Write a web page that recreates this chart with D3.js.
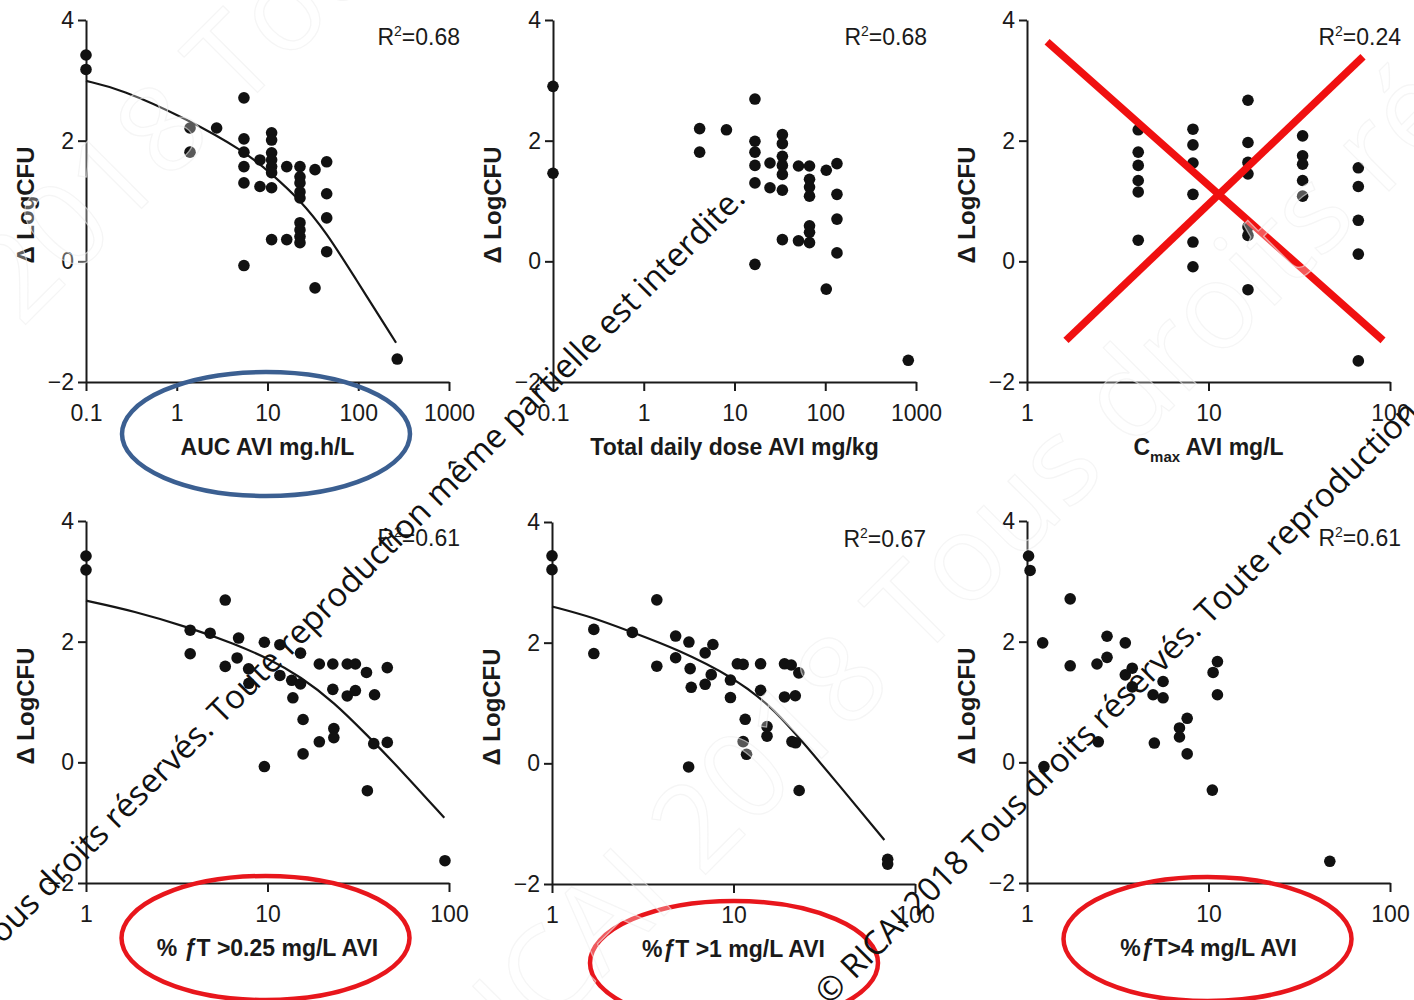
<!DOCTYPE html>
<html>
<head>
<meta charset="utf-8">
<script src="https://cdn.jsdelivr.net/npm/d3@7"></script>
<style>
  html, body { margin: 0; padding: 0; background: #fff; }
  svg { display: block; }
  .axis text { font-family: "Liberation Sans", Arial, sans-serif; font-size: 23px; fill: #1a1a1a; }
  .axis .domain, .axis .tick line { stroke: #1a1a1a; stroke-width: 2; }
  .title { font-family: "Liberation Sans", Arial, sans-serif; font-weight: bold; font-size: 23px; fill: #1a1a1a; }
  .r2 { font-family: "Liberation Sans", Arial, sans-serif; font-size: 23px; fill: #1a1a1a; }
</style>
</head>
<body>
<svg id="chart" width="1414" height="1000"></svg>
<script>
// ---------- values ----------
const yTicks = [-2, 0, 2, 4];
const decadeTicksWide = [0.1, 1, 10, 100, 1000];
const decadeTicksNarrow = [1, 10, 100];
const r2Values = ["0.68", "0.68", "0.24", "0.61", "0.67", "0.61"];

// AUC (mg.h/L) vs change in log CFU
const aucX = [0.1, 0.1, 1.40, 1.40, 2.75, 5.5, 5.5, 5.5, 5.5, 5.5, 5.5, 8.26, 8.26,
  11.1, 11.1, 11.1, 11.1, 11.1, 11.1, 11.1, 11.1, 16.3, 16.3,
  22.8, 22.8, 22.8, 22.8, 22.8, 22.8, 22.8, 22.8, 22.8, 33.4, 33.4, 44.9, 44.9, 44.9, 44.9, 269];
const aucY = [3.42, 3.18, 2.21, 1.81, 2.21, 2.71, 2.03, 1.81, 1.57, 1.30, -0.07, 1.68, 1.24,
  2.13, 2.01, 1.80, 1.68, 1.57, 1.47, 1.22, 0.36, 1.57, 0.36,
  1.57, 1.40, 1.30, 1.15, 1.05, 0.64, 0.52, 0.41, 0.31, 1.52, -0.44, 1.65, 1.12, 0.72, 0.16, -1.62];
const aucFitX = [0.1, 0.237, 1.30, 5.5, 11.1, 22.8, 44.9, 87.5, 261];
const aucFitY = [2.99, 2.86, 2.36, 1.83, 1.45, 1.02, 0.47, -0.22, -1.35];

// total daily dose (mg/kg)
const doseX = [0.1, 0.1, 4.13, 4.13, 8.15, 16.8, 16.8, 16.8, 16.8, 16.8, 16.8, 24.6, 24.6,
  33.7, 33.7, 33.7, 33.7, 33.7, 33.7, 33.7, 50.7, 50.7,
  67.1, 67.1, 67.1, 67.1, 67.1, 67.1, 67.1, 102.6, 102.6, 134.6, 134.6, 134.6, 134.6, 822];
const doseY = [2.90, 1.46, 2.20, 1.81, 2.18, 2.69, 1.99, 1.81, 1.59, 1.30, -0.05, 1.63, 1.22,
  2.10, 1.95, 1.74, 1.59, 1.44, 1.18, 0.36, 1.58, 0.34,
  1.58, 1.36, 1.23, 1.08, 0.59, 0.48, 0.31, 1.51, -0.46, 1.62, 1.11, 0.70, 0.14, -1.64];

// Cmax (mg/L)
const cmaxX = [4.10, 4.10, 4.10, 4.10, 4.10, 4.10, 8.21, 8.21, 8.21, 8.21, 8.21, 8.21,
  16.5, 16.5, 16.5, 16.5, 16.5, 16.5, 16.5, 33.0, 33.0, 33.0, 33.0, 33.0,
  66.9, 66.9, 66.9, 66.9, 66.9];
const cmaxY = [2.18, 1.81, 1.59, 1.34, 1.15, 0.35, 2.19, 1.93, 1.63, 1.11, 0.32, -0.09,
  2.67, 1.97, 1.64, 1.45, 0.57, 0.43, -0.47, 2.08, 1.75, 1.61, 1.34, 1.08,
  1.55, 1.24, 0.68, 0.12, -1.65];

// % fT > 0.25 mg/L
const ft025X = [1.0, 1.0, 3.75, 3.75, 4.83, 5.85, 5.85, 6.93, 6.8, 7.87, 7.9, 9.61, 9.61,
  11.7, 11.7, 13.6, 13.8, 15.2, 15.2, 15.7, 15.7, 19.3, 19.3, 22.9, 22.9, 23.2, 23.2,
  27.5, 27.5, 30.5, 30.5, 35.1, 35.5, 38.9, 38.5, 45.7, 45.7, 95.0];
const ft025Y = [3.42, 3.19, 2.19, 1.80, 2.14, 2.69, 1.59, 2.06, 1.73, 1.55, 1.31, 1.99, -0.07,
  1.95, 1.44, 1.36, 1.07, 1.81, 1.30, 0.71, 0.14, 1.63, 0.34, 1.63, 1.21, 0.56, 0.41,
  1.63, 1.10, 1.63, 1.19, 1.49, -0.47, 1.12, 0.31, 1.57, 0.33, -1.63];
const ft025FitX = [1, 1.82, 3.75, 6.51, 10.3, 15.2, 23.2, 35.4, 54.1, 94.2];
const ft025FitY = [2.68, 2.51, 2.23, 1.97, 1.71, 1.42, 1.00, 0.45, -0.12, -0.92];

// % fT > 1 mg/L
const ft1X = [1, 1, 1.70, 1.70, 2.77, 3.78, 3.78, 4.80, 4.80, 5.68, 5.77, 5.85, 5.66,
  6.98, 6.98, 7.54, 7.7, 9.62, 9.62, 10.5, 11.3, 11.6, 11.3, 11.8, 14.1, 14.1, 15.3, 15.3,
  19.1, 19.1, 20.8, 22.9, 21.9, 21.0, 22.0, 23.0, 70.7, 70.7];
const ft1Y = [3.44, 3.21, 2.22, 1.82, 2.17, 2.71, 1.61, 2.11, 1.75, 2.01, 1.57, 1.26, -0.06,
  1.83, 1.31, 1.47, 1.97, 1.38, 1.09, 1.65, 1.64, 0.73, 0.36, 0.15, 1.65, 1.21, 0.61, 0.45,
  1.65, 1.10, 1.63, 1.50, 1.12, 0.36, 0.34, -0.45, -1.59, -1.67];
const ft1FitX = [1, 1.68, 2.77, 4.83, 10.1, 15.8, 21.2, 36.7, 67.8];
const ft1FitY = [2.60, 2.42, 2.17, 1.90, 1.42, 0.96, 0.55, -0.30, -1.27];

// % fT > 4 mg/L
const ft4X = [1.02, 1.04, 1.22, 1.24, 1.73, 1.73, 2.43, 2.76, 2.76, 2.47, 3.48, 3.48, 3.80, 3.80,
  4.95, 5.03, 5.62, 5.62, 6.92, 6.92, 7.63, 7.63, 10.6, 11.2, 11.2, 10.5, 46.6];
const ft4Y = [3.42, 3.18, 1.98, -0.07, 2.71, 1.60, 1.63, 2.09, 1.74, 0.34, 1.98, 1.45, 1.56, 1.25,
  1.12, 0.32, 1.34, 1.07, 0.57, 0.42, 0.73, 0.14, 1.49, 1.67, 1.12, -0.46, -1.64];

// crossed-out Cmax panel: two strokes, endpoints in data units
const crossStrokes = [
  [[1.29, 3.64], [91.5, -1.31]],
  [[1.64, -1.31], [71, 3.39]]
];

const copyright = "© RICAI 2018 Tous droits réservés. Toute reproduction même partielle est interdite.";

// ---------- layout ----------
const svg = d3.select("#chart");
const plotW = 363, plotH = 362;
const font = '"Liberation Sans", Arial, sans-serif';

const panels = [
  { left: 86,   top: 20,  domain: [0.1, 1000], ticks: decadeTicksWide, xs: aucX, ys: aucY, fitX: aucFitX, fitY: aucFitY,
    title: [{ t: "AUC AVI mg.h/L" }] },
  { left: 553,  top: 20,  domain: [0.1, 1000], ticks: decadeTicksWide, xs: doseX, ys: doseY,
    title: [{ t: "Total daily dose AVI mg/kg" }] },
  { left: 1027, top: 20,  domain: [1, 100], ticks: decadeTicksNarrow, xs: cmaxX, ys: cmaxY,
    title: [{ t: "C" }, { t: "max", sub: true }, { t: " AVI mg/L" }] },
  { left: 86,   top: 521, domain: [1, 100], ticks: decadeTicksNarrow, xs: ft025X, ys: ft025Y, fitX: ft025FitX, fitY: ft025FitY,
    title: [{ t: "% " }, { t: "ƒ", it: true }, { t: "T >0.25 mg/L AVI" }] },
  { left: 552,  top: 522, domain: [1, 100], ticks: decadeTicksNarrow, xs: ft1X, ys: ft1Y, fitX: ft1FitX, fitY: ft1FitY,
    title: [{ t: "%" }, { t: "ƒ", it: true }, { t: "T >1 mg/L AVI" }] },
  { left: 1027, top: 521, domain: [1, 100], ticks: decadeTicksNarrow, xs: ft4X, ys: ft4Y,
    title: [{ t: "%" }, { t: "ƒ", it: true }, { t: "T>4 mg/L AVI" }] }
];

const fmtY = d => d < 0 ? "\u2212" + (-d) : String(d);

panels.forEach((p, i) => {
  const x = d3.scaleLog().domain(p.domain).range([p.left, p.left + plotW]);
  const y = d3.scaleLinear().domain([-2, 4]).range([p.top + plotH, p.top]);
  p.x = x; p.y = y;
  const g = svg.append("g");

  g.append("g").attr("class", "axis")
    .attr("transform", `translate(0,${p.top + plotH})`)
    .call(d3.axisBottom(x).tickValues(p.ticks).tickFormat(d => String(d))
      .tickSize(9).tickPadding(14).tickSizeOuter(0));

  g.append("g").attr("class", "axis")
    .attr("transform", `translate(${p.left},0)`)
    .call(d3.axisLeft(y).tickValues(yTicks).tickFormat(fmtY)
      .tickSize(8).tickPadding(4).tickSizeOuter(0));

  g.selectAll(".axis text").attr("font-family", font);

  // y title
  g.append("text").attr("class", "title")
    .attr("transform", `translate(${p.left - 52},${p.top + plotH / 2 + 4}) rotate(-90)`)
    .attr("text-anchor", "middle")
    .style("font-size", "24px")
    .text("Δ LogCFU");

  // x title
  const xt = g.append("text").attr("class", "title")
    .attr("x", p.left + plotW / 2).attr("y", p.top + plotH + 73)
    .attr("text-anchor", "middle");
  let shift = 0;
  p.title.forEach(s => {
    const ts = xt.append("tspan").text(s.t);
    const target = s.sub ? 7 : 0;
    if (target !== shift) { ts.attr("dy", target - shift); shift = target; }
    if (s.sub) ts.style("font-size", "15px");
    if (s.it) ts.style("font-style", "italic");
  });

  // fitted curve
  if (p.fitX) {
    g.append("path")
      .datum(d3.zip(p.fitX, p.fitY))
      .attr("fill", "none").attr("stroke", "#151515").attr("stroke-width", 2.2)
      .attr("d", d3.line().x(d => x(d[0])).y(d => y(d[1])).curve(d3.curveBasis));
  }

  // observations
  g.append("g").selectAll("circle")
    .data(d3.zip(p.xs, p.ys))
    .join("circle")
    .attr("cx", d => x(d[0])).attr("cy", d => y(d[1]))
    .attr("r", 5.8).attr("fill", "#111");

  // R² label
  const r2 = g.append("text").attr("class", "r2")
    .attr("x", p.left + plotW + 11).attr("y", p.top + 25)
    .attr("text-anchor", "end");
  r2.append("tspan").text("R");
  r2.append("tspan").text("2").attr("dy", -9).style("font-size", "14px");
  r2.append("tspan").text("=" + r2Values[i]).attr("dy", 9);
});

// ---------- annotations ----------
const cm = panels[2];
svg.append("g").selectAll("line")
  .data(crossStrokes)
  .join("line")
  .attr("x1", d => cm.x(d[0][0])).attr("y1", d => cm.y(d[0][1]))
  .attr("x2", d => cm.x(d[1][0])).attr("y2", d => cm.y(d[1][1]))
  .attr("stroke", "#f01010").attr("stroke-width", 7.5);

const rings = [
  { panel: 0, color: "#3b5f91", dx: -1.5, dy: -21 },
  { panel: 3, color: "#e8161c", dx: -2, dy: -18 },
  { panel: 4, color: "#e8161c", dx: 0.5, dy: 6 },
  { panel: 5, color: "#e8161c", dx: -1, dy: -17 }
];
svg.append("g").selectAll("ellipse")
  .data(rings)
  .join("ellipse")
  .attr("cx", d => panels[d.panel].left + plotW / 2 + d.dx)
  .attr("cy", d => panels[d.panel].top + plotH + 73 + d.dy)
  .attr("rx", 144).attr("ry", 62)
  .attr("fill", "none").attr("stroke", d => d.color).attr("stroke-width", 4.5);

// ---------- copyright overlay ----------
// large, barely visible background copy
const faint = svg.append("g")
  .attr("font-family", '"Open Sans", sans-serif').attr("font-size", 120)
  .attr("fill", "#fff").attr("fill-opacity", 0.3)
  .attr("stroke", "#efefef").attr("stroke-opacity", 0.6).attr("stroke-width", 1.2);
[[-300, 650], [380, 1200], [900, 1650]].forEach(([px, py]) => {
  faint.append("text")
    .attr("transform", `translate(${px},${py}) rotate(-45)`)
    .text(copyright);
});

// foreground line of text, twice across the sheet
const mark = svg.append("g")
  .attr("font-family", '"Open Sans", sans-serif').attr("font-size", 33)
  .attr("fill", "#111");
mark.append("text")
  .attr("transform", "translate(747,200) rotate(-45)")
  .attr("text-anchor", "end")
  .text(copyright);
mark.append("text")
  .attr("transform", "translate(829,1006) rotate(-45)")
  .attr("text-anchor", "start")
  .text(copyright);
</script>
</body>
</html>
